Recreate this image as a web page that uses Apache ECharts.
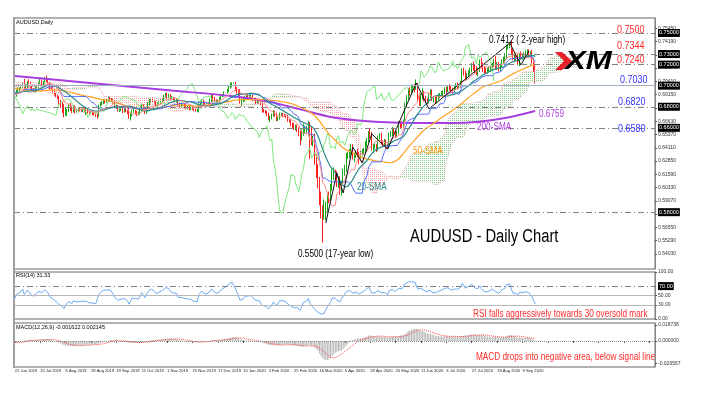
<!DOCTYPE html>
<html><head><meta charset="utf-8">
<script src="https://cdn.jsdelivr.net/npm/echarts@6.0.0/dist/echarts.min.js"></script>
<style>html,body{margin:0;padding:0;background:#fff}#c{width:704px;height:397px}</style>
</head><body><div id="c"></div>
<script>
// ---- data (prices in 1/10000) ----
const preCloses = [7125,7130,7165,7120,7170,7160,7175,7185,7140,7145,7110,7050,7020,7030,7040,7050,7045,
 7010,7000,6995,6990,7010,7000,6990,6985,6960,6945,6925,6915,6870,6915,6895,6885,6880,6905,6920,6920,6915,6925,6940,
 6980,6975,6980,6985,6990,6955,6960,6935,6915,6875,6865,6880,6890,6930];
const close2019 = [6905,6950,6965,6970,6985,7020,
 6965,6995,7035,7025,6980,6960,6955,6985,6990,7025,7040,7015,7030,7060,7045,7025,6980,6975,6945,6920,6900,6890,6845,
 6815,6800,6730,6765,6765,6810,6780,6760,6795,6760,6765,6775,6770,6765,6770,6760,6765,6750,6740,6745,6735,6730,
 6725,6720,6800,6825,6840,6855,6850,6860,6880,6870,6865,6835,6800,6805,6765,6770,6775,6760,6775,6760,6750,
 6700,6725,6755,6755,6750,6730,6740,6770,6805,6780,6750,6770,6825,6850,6870,6850,6845,6820,6820,6840,6855,6865,6895,
 6905,6895,6905,6880,6880,6865,6855,6860,6825,6805,6820,6820,6810,6790,6800,6780,6790,6785,6770,6765,6765,
 6820,6840,6855,6835,6820,6830,6825,6860,6890,6880,6860,6845,6855,6880,6905,6910,6935,6935,6955,6985,7005,7020];
const close2020 = [7020,6975,6945,6935,6845,6860,6860,6890,6905,6895,6900,6900,6875,6870,6845,6850,6840,6835,6765,6760,6750,6730,6690,
 6695,6720,6745,6725,6680,6690,6725,6730,6720,6715,6705,6670,6665,6635,6620,6600,6610,6580,6550,6510,
 6545,6580,6590,6595,6620,6535,6475,6495,6290,6215,6105,5935,5815,5790,5810,5820,5935,5925,6040,6155,6165,6150,
 6070,6085,5995,6080,6175,6215,6330,6345,6380,6410,6315,6340,6365,6350,6305,6365,6370,6385,6445,6480,6550,6520,
 6410,6420,6425,6400,6505,6525,6460,6445,6470,6435,6420,6535,6545,6580,6560,6535,6555,6640,6630,6625,6665,
 6820,6885,6945,6935,6960,6980,6975,6995,6870,6865,6895,6930,6880,6860,6845,6905,6935,6870,6875,6860,6880,6900,
 6910,6925,6935,6965,6960,6985,6975,6955,6950,6980,7005,6990,6995,7025,7140,7120,7080,7100,7125,7150,7190,7170,7145,
 7120,7150,7225,7190,7160,7140,7135,7150,7155,7165,7195,7235,7175,7195,7160,7185,7230,7250,7270,7370,7375,
 7390,7320,7255,7275,7255,7210,7290,7270,7285,7290,7305,7320,7295,7300,7230,7150,7040];
const wickUp2019 = [15,12,20,15,18,10,
 45,20,10,25,12,18,15,10,22,12,25,20,15,22,35,15,12,18,10,20,12,15,10,
 20,30,25,35,15,20,25,30,15,20,15,18,12,15,10,20,25,15,12,18,10,12,
 15,10,20,18,15,20,12,15,20,15,12,10,25,15,12,15,12,15,10,12,10,
 40,15,20,25,15,12,15,20,25,18,12,15,20,25,15,20,15,12,20,15,15,12,20,
 25,30,20,15,25,12,15,20,12,15,20,15,12,15,10,15,12,15,10,12,15,
 15,20,15,12,15,15,12,20,25,30,15,12,12,15,15,10,12,2,15,20,25,12];
const wickDown2019 = [20,10,15,18,12,15,
 10,18,20,15,30,12,15,20,10,15,12,15,20,10,12,15,18,10,20,15,10,18,25,
 25,60,30,15,55,15,20,20,15,25,15,10,15,12,18,15,40,15,20,10,15,12,
 20,35,15,15,12,15,20,12,15,20,15,12,15,20,10,15,12,20,15,12,20,
 15,30,20,12,20,18,12,15,15,12,20,15,10,15,18,12,15,20,15,12,15,18,12,
 15,12,15,20,15,18,12,15,20,15,12,15,20,12,15,15,12,15,12,10,15,
 20,15,12,15,20,12,15,12,15,25,15,18,15,12,15,15,12,2,12,15,12,20];
const wickUp2020 = [10,15,12,20,30,20,25,15,15,20,12,15,12,10,15,12,20,12,15,15,10,12,15,
 20,15,25,15,20,15,20,15,12,15,12,20,15,12,15,25,20,20,25,30,
 40,60,30,25,45,35,80,30,50,60,40,30,60,50,110,80,40,60,30,50,60,40,
 40,30,55,20,40,35,30,25,20,40,35,25,20,35,20,25,30,25,30,25,20,50,
 40,30,25,20,20,25,30,20,25,20,15,20,25,30,20,20,15,25,20,35,15,
 20,25,30,40,50,30,35,65,30,40,30,45,20,25,20,20,30,30,25,25,20,25,
 20,25,20,20,25,15,30,25,25,15,20,25,15,20,25,30,25,20,20,20,25,40,30,
 40,20,25,40,30,25,30,20,30,25,20,20,45,30,30,25,20,25,40,20,20,
 25,35,25,30,25,35,20,35,20,25,30,25,25,25,40,25,40];
const wickDown2020 = [2,25,20,30,15,40,15,12,15,15,12,15,20,12,20,15,12,20,20,15,15,20,15,
 35,15,12,20,15,15,12,15,20,12,15,12,15,20,25,20,25,20,30,75,
 30,20,30,40,70,230,40,50,40,90,80,70,75,280,60,85,30,40,30,35,50,40,
 30,40,30,40,20,30,35,25,30,35,15,40,25,30,50,20,30,25,25,30,20,20,
 25,50,20,30,20,15,20,25,20,35,20,15,20,25,20,30,20,15,30,30,25,
 20,25,15,30,20,25,40,15,20,55,60,25,30,25,20,15,20,15,30,25,30,20,
 20,15,20,15,30,20,20,25,25,20,15,25,20,15,20,25,30,25,15,20,25,25,30,
 20,30,20,25,30,30,25,20,25,25,20,20,20,25,25,20,20,25,40,25,25,
 20,25,15,25,20,15,25,20,25,20,25,20,20,25,20,20,20];
const dateLabels = ["21 Jun 2019","15 Jul 2019","6 Aug 2019","28 Aug 2019","19 Sep 2019","11 Oct 2019","1 Nov 2019",
 "25 Nov 2019","17 Dec 2019","10 Jan 2020","3 Feb 2020","25 Feb 2020","16 Mar 2020","6 Apr 2020","28 Apr 2020",
 "20 May 2020","11 Jun 2020","3 Jul 2020","27 Jul 2020","18 Aug 2020","9 Sep 2020"];
const sma200Index = [0,34,68,102,136,161,180,199,215,230,255,275,291,310,328];
const sma200Value = [0.7092,0.7045,0.6997,0.6950,0.6902,0.6845,0.6775,0.6703,0.6672,0.6656,0.6646,0.6645,0.6655,0.6695,0.6759];
const zigzagIndex = [196,203,207,213,219,225,235,253,261,312,319,324];
const zigzagPrice = [0.5697,0.6172,0.5982,0.6418,0.6267,0.6542,0.6399,0.7026,0.6780,0.7405,0.7196,0.7329];
const levelDashed = [0.7500,0.7344,0.7240,0.6820,0.6580,0.5764];
const levelSolid = [0.7030];
const priceTicks = [0.54030,0.55290,0.56550,0.57810,0.59070,0.60330,0.61590,0.62850,0.64110,0.65370,0.66630,0.67890,0.69150,0.70410,0.71670,0.72930,0.74190,0.75450];
const rsiTicks = [100,50,30,0];
const macdTicks = [0.018738,0,-0.026567];

if (close2019.length!==wickUp2019.length || close2019.length!==wickDown2019.length) throw new Error('2019 len');
if (close2020.length!==wickUp2020.length || close2020.length!==wickDown2020.length) throw new Error('2020 len');

// ---- derived ----
const P = v => v/10000;
const mainC = close2019.concat(close2020).map(P);
const wU = wickUp2019.concat(wickUp2020).map(P);
const wD = wickDown2019.concat(wickDown2020).map(P);
const preC = preCloses.map(P);
const N = mainC.length, off = preC.length, SLOTS = 404;
const allC = preC.concat(mainC), allH = preC.slice(), allL = preC.slice();
const candles = [];
for (let i=0;i<N;i++){
  const o = i ? mainC[i-1] : preC[off-1], c = mainC[i];
  const h = Math.max(o,c)+wU[i], l = Math.min(o,c)-wD[i];
  candles.push([o,c,l,h]); allH.push(h); allL.push(l);
}
const slots = Array.from({length:SLOTS},(_,i)=>String(i));
const pad = a => { const r=a.slice(); while(r.length<SLOTS) r.push(null); return r; };
function sma(arr,n,i){let s=0,c=0;for(let j=Math.max(0,i-n+1);j<=i;j++){s+=arr[j];c++;}return s/c;}
function mid(j,p){let hh=-Infinity,ll=Infinity;for(let k=Math.max(0,j-p+1);k<=j;k++){hh=Math.max(hh,allH[k]);ll=Math.min(ll,allL[k]);}return (hh+ll)/2;}
const sma20=[],sma50=[],tenkan=[],kijun=[],chikou=[];
for(let i=0;i<N;i++){
  sma20.push(sma(allC,20,off+i)); sma50.push(sma(allC,50,off+i));
  tenkan.push(mid(off+i,9)); kijun.push(mid(off+i,26));
  chikou.push(i+26<N ? mainC[i+26] : null);
}
const spanA=[],spanB=[],cBase=[],cGreen=[],cRed=[];
for(let s=0;s<N+26;s++){
  const j=off+s-26;
  if(j<0){spanA.push(null);spanB.push(null);cBase.push(null);cGreen.push(null);cRed.push(null);continue;}
  const a=(mid(j,9)+mid(j,26))/2, b=mid(j,52);
  spanA.push(a); spanB.push(b); cBase.push(Math.min(a,b));
  cGreen.push(a>=b?a-b:0); cRed.push(a<b?b-a:0);
}
const s200 = new Array(SLOTS).fill(null);
sma200Index.forEach((k,i)=>{s200[k]=sma200Value[i];});
const zig = new Array(SLOTS).fill(null);
zigzagIndex.forEach((k,i)=>{zig[k]=zigzagPrice[i];});
// RSI (Wilder 14)
const rsiAll=new Array(allC.length).fill(null);
(function(){const n=14;let g=0,l=0;for(let i=1;i<=n;i++){const d=allC[i]-allC[i-1];if(d>0)g+=d;else l-=d;}g/=n;l/=n;rsiAll[n]=100-100/(1+g/l);
for(let i=n+1;i<allC.length;i++){const d=allC[i]-allC[i-1];g=(g*(n-1)+Math.max(d,0))/n;l=(l*(n-1)+Math.max(-d,0))/n;rsiAll[i]=l===0?100:100-100/(1+g/l);}})();
const rsi = rsiAll.slice(off);
function ema(arr,n){const k=2/(n+1);let e=arr[0];return arr.map(v=>(e=v*k+e*(1-k)));}
const e12=ema(allC,12), e26=ema(allC,26);
const macdAll=e12.map((v,i)=>v-e26[i]);
const sigAll=macdAll.map((v,i)=>sma(macdAll,9,i));
const macd=macdAll.slice(off), sig=sigAll.slice(off);

function dots(color){const cv=document.createElement('canvas');cv.width=2;cv.height=2;const g=cv.getContext('2d');g.fillStyle=color;g.fillRect(0,0,1,1);return {image:cv,repeat:'repeat'};}

const SANS = "'Liberation Sans',Arial,sans-serif";
function T(text,x,y,size,color,narrow){return {type:'text',x:x,y:y,z:100,scaleX:narrow===false?1:0.82,style:{text:text,fill:color,font:size+'px '+SANS,verticalAlign:'middle',align:'left'}};}

const boxLabel = (fmt)=>({show:true,position:'end',distance:3,formatter:fmt,backgroundColor:'#000',color:'#fff',fontSize:5.5,fontFamily:SANS,padding:[1,1]});

const xBase = g => ({type:'category',gridIndex:g,data:slots,boundaryGap:true,axisLine:{show:false},axisTick:{show:false},axisLabel:{show:false},splitLine:{show:false}});
const lineS = (name,data,color,width,extra)=>Object.assign({type:'line',name:name,data:pad(data),xAxisIndex:0,yAxisIndex:0,symbol:'none',showSymbol:false,lineStyle:{color:color,width:width},silent:true},extra||{});

const chart = echarts.init(document.getElementById('c'),null,{renderer:'canvas'});
chart.setOption({
  animation:false,
  backgroundColor:'#fff',
  grid:[
    {left:14,right:49,top:18,height:251,show:true,borderColor:'#666',borderWidth:1},
    {left:14,right:49,top:272,height:47,show:true,borderColor:'#666',borderWidth:1},
    {left:14,right:49,top:323,height:44,show:true,borderColor:'#666',borderWidth:1}
  ],
  xAxis:[xBase(0),xBase(1),Object.assign(xBase(2),{
    axisTick:{show:true,interval:15,alignWithLabel:true,length:2,lineStyle:{color:'#555'}},
    axisLabel:{show:true,interval:15,showMinLabel:true,formatter:(v,i)=>dateLabels[i/16]||'',fontSize:4.1,fontFamily:SANS,color:'#222',margin:2,align:'left'}
  })],
  yAxis:[
    {type:'value',gridIndex:0,position:'right',min:0.5261,max:0.7642,splitLine:{show:false},axisLine:{show:true,lineStyle:{color:'#888'}},
     axisTick:{show:true,length:2,customValues:priceTicks,lineStyle:{color:'#555'}},
     axisLabel:{customValues:priceTicks,formatter:v=>v.toFixed(5),fontSize:5,fontFamily:SANS,color:'#333',margin:3}},
    {type:'value',gridIndex:1,position:'right',min:0,max:100,splitLine:{show:false},axisLine:{show:true,lineStyle:{color:'#888'}},
     axisTick:{show:true,length:2,customValues:rsiTicks,lineStyle:{color:'#555'}},
     axisLabel:{customValues:rsiTicks,formatter:v=>v.toFixed(2),fontSize:5,fontFamily:SANS,color:'#333',margin:3}},
    {type:'value',gridIndex:2,position:'right',min:-0.0304,max:0.0211,splitLine:{show:false},axisLine:{show:true,lineStyle:{color:'#888'}},
     axisTick:{show:true,length:2,customValues:macdTicks,lineStyle:{color:'#555'}},
     axisLabel:{customValues:macdTicks,formatter:v=>v.toFixed(6),fontSize:5,fontFamily:SANS,color:'#333',margin:3}}
  ],
  series:[
    lineS('cloudBase',cBase,'rgba(0,0,0,0)',0,{stack:'cloud'}),
    lineS('cloudBull',cGreen,'rgba(0,0,0,0)',0,{stack:'cloud',areaStyle:{color:dots('#86cc86'),opacity:1}}),
    lineS('cloudBear',cRed,'rgba(0,0,0,0)',0,{stack:'cloud',areaStyle:{color:dots('#f3a3a3'),opacity:1}}),
    lineS('spanA',spanA,'#eaa0a0',0.8,{lineStyle:{color:'#eaa8a8',width:0.8,type:'dotted'}}),
    lineS('spanB',spanB,'#e6b4c8',0.8,{lineStyle:{color:'#e6b4c8',width:0.8,type:'dotted'}}),
    lineS('chikou',chikou,'#7ee87e',1),
    lineS('sma200',s200,'#a83ee0',2,{connectNulls:true,smooth:0.3}),
    lineS('sma50',sma50,'#ffa020',1.2),
    lineS('kijun',kijun,'#5570ff',1),
    lineS('sma20',sma20,'#2a8c8c',1.2),
    lineS('tenkan',tenkan,'#ff8a8a',1),
    {type:'candlestick',name:'AUDUSD',data:candles,xAxisIndex:0,yAxisIndex:0,barWidth:1.2,silent:true,
     itemStyle:{color:'#1aa81a',color0:'#ff2020',borderColor:'#1aa81a',borderColor0:'#ff2020',borderWidth:1},
     markLine:{silent:true,symbol:'none',animation:false,data:
       levelDashed.map(v=>({yAxis:v,lineStyle:{color:'#808080',width:1,type:[6,3,1,3]},label:boxLabel(p=>p.value.toFixed(5))}))
       .concat(levelSolid.map(v=>({yAxis:v,lineStyle:{color:'#9fb0c4',width:1.2,type:'solid'},label:boxLabel(p=>p.value.toFixed(5))})))}
    },
    lineS('zigzag',zig,'#111',1,{connectNulls:true}),
    {type:'line',name:'RSI',data:pad(rsi),xAxisIndex:1,yAxisIndex:1,symbol:'none',silent:true,lineStyle:{color:'#6aaaf0',width:1},
     markLine:{silent:true,symbol:'none',data:[
       {yAxis:70,lineStyle:{color:'#808080',width:1,type:[6,3,1,3]},label:boxLabel(()=> '70.00')},
       {yAxis:50,lineStyle:{color:'#b8b8b8',width:1,type:'solid'},label:{show:false}},
       {yAxis:30,lineStyle:{color:'#b8b8b8',width:1,type:'solid'},label:{show:false}}]}},
    {type:'bar',name:'MACD',data:pad(macd),xAxisIndex:2,yAxisIndex:2,barWidth:1,silent:true,itemStyle:{color:'#b4b4b4'},
     markLine:{silent:true,symbol:'none',data:[{yAxis:0,lineStyle:{color:'#909090',width:1,type:'dotted'},label:{show:false}}]}},
    {type:'line',name:'Signal',data:pad(sig),xAxisIndex:2,yAxisIndex:2,symbol:'none',silent:true,lineStyle:{color:'#ff4040',width:1,type:'dotted'}}
  ],
  graphic:[
    {type:'rect',shape:{x:13,y:17,width:2,height:351},style:{fill:'#a0a0a0'},z:100},
    T('AUDUSD,Daily',16,22,5.5,'#000',false),
    T('RSI(14) 31.33',16,275,5.5,'#000',false),
    T('MACD(12,26,9) -0.001622 0.002145',16,327,5.5,'#000',false),
    T('0.7500',617,30,11,'#ff2a2a'),
    T('0.7344',617,46,11,'#ff2a2a'),
    T('0.7240',617,60,11,'#ff2a2a'),
    T('0.7030',620,80,11,'#3434ff'),
    T('0.6820',618,102,11,'#3434ff'),
    T('0.6580',618,129,11,'#3434ff'),
    T('0.6759',539,114,10,'#b040e0'),
    T('200-SMA',477,127,10,'#b040e0'),
    T('50-SMA',413,151,10,'#ff9a10'),
    T('20-SMA',357,187,10,'#2a8c8c'),
    T('0.7412 ( 2-year high)',489,40,10,'#000'),
    T('0.5500 (17-year low)',298,254,10,'#000'),
    T('AUDUSD - Daily Chart',410,237,18,'#000'),
    T('RSI falls aggressively towards 30 oversold mark',473,314,10,'#ff2a2a'),
    T('MACD drops into negative area, below signal line',476,357,10,'#ff2a2a'),
    {type:'polygon',z:100,shape:{points:[[555,52],[562,52],[572,61],[562,70],[555,70],[564,61]]},style:{fill:'#e8202a'}},
    {type:'text',z:100,x:565,y:62,scaleX:1.25,style:{text:'XM',fill:'#000',font:'italic 900 25px '+SANS,verticalAlign:'middle',align:'left'}}
  ]
});
</script></body></html>
